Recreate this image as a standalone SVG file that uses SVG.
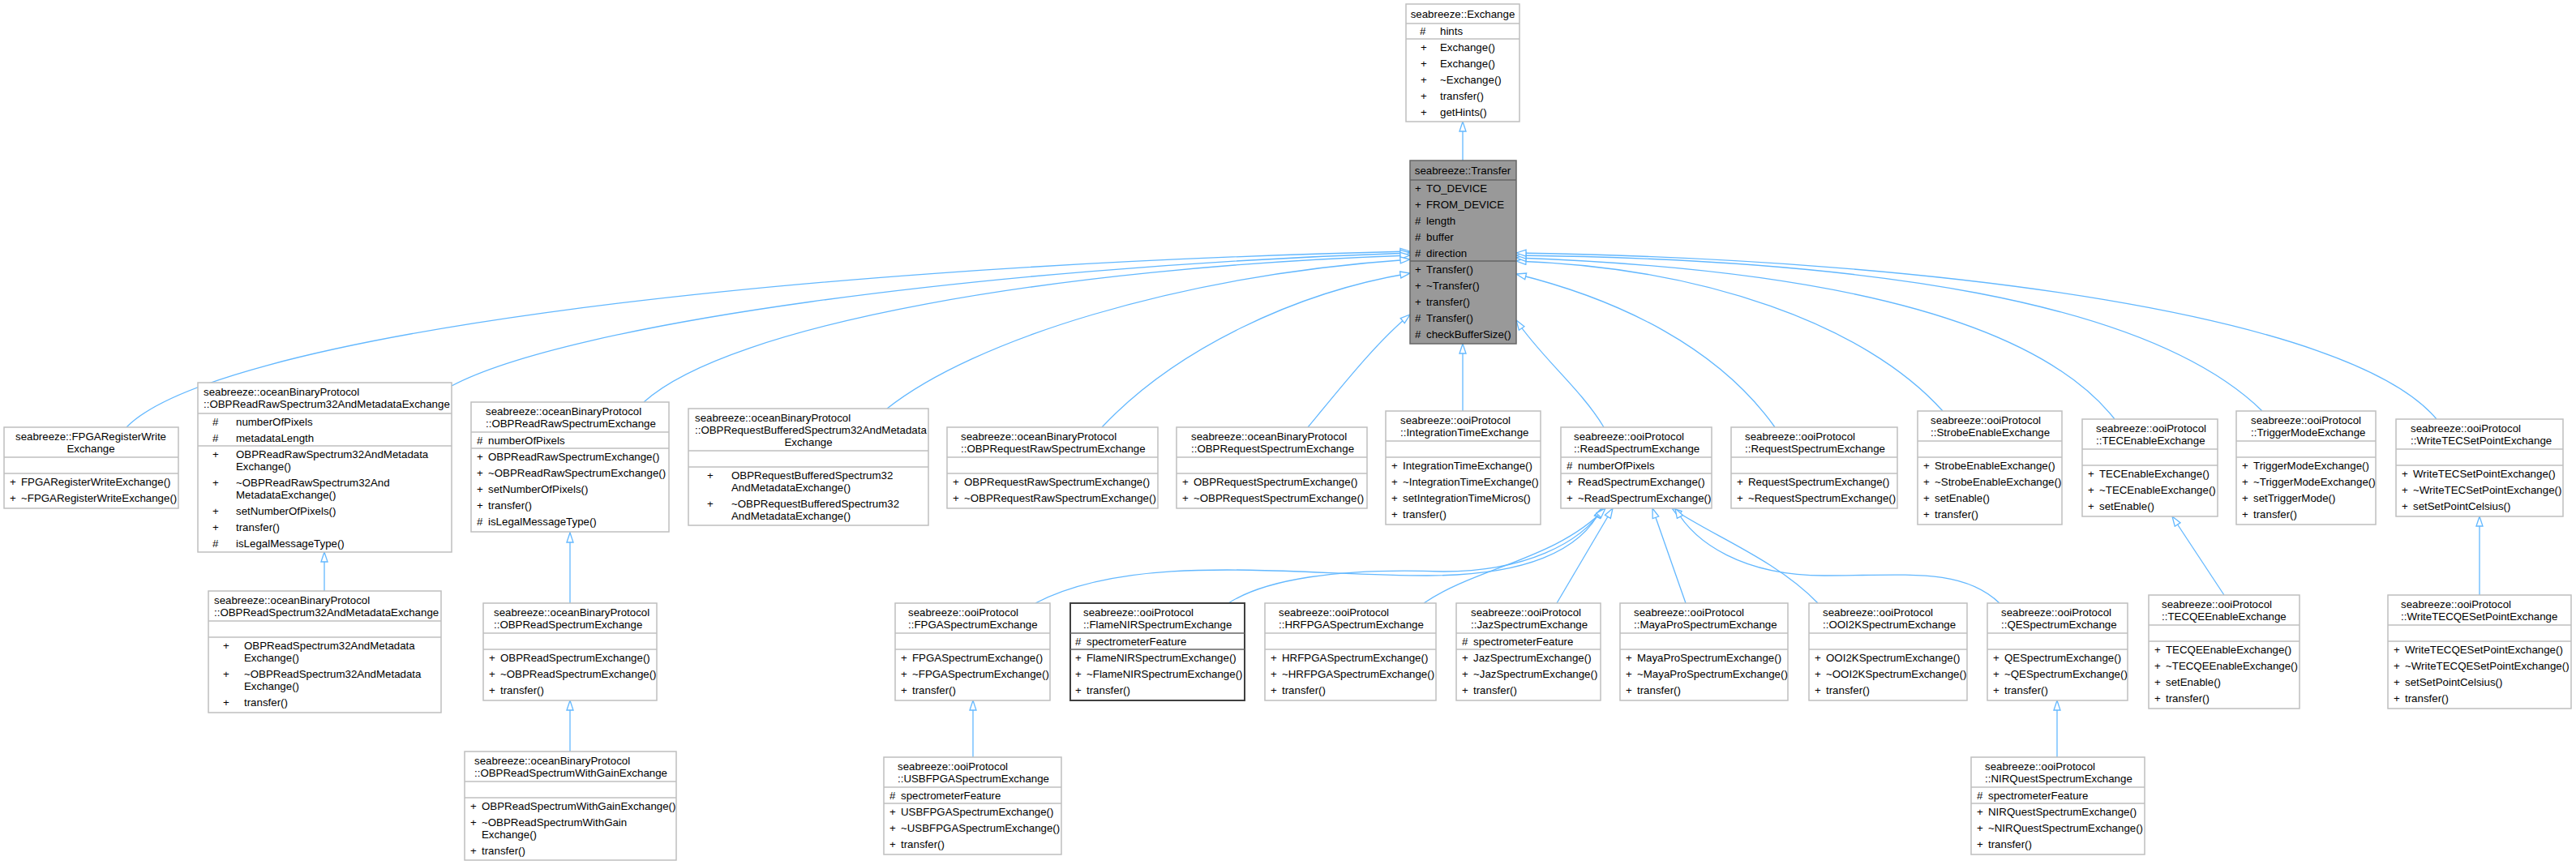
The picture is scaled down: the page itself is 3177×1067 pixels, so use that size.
<svg xmlns="http://www.w3.org/2000/svg" width="3177" height="1067" viewBox="0 0 3177 1067">
<style>
text{font-family:"Liberation Sans",Arial,sans-serif;font-size:13.3px;fill:#000}
.b{fill:#fff;stroke:#bfbfbf;stroke-width:1.5}
.cur{fill:#999;stroke:#666;stroke-width:1.5}
.dk{fill:#fff;stroke:#404040;stroke-width:2}
.s{stroke:#bfbfbf;stroke-width:1.5}
.sd{stroke:#666;stroke-width:1.5}
.c{text-anchor:middle}
.e path{fill:none;stroke:#63b8ff;stroke-width:1.3;marker-end:url(#tri)}
</style>
<defs>
<marker id="tri" viewBox="0 0 14 10" refX="13" refY="5" markerWidth="14" markerHeight="10" markerUnits="userSpaceOnUse" orient="auto">
<path d="M1,1 L13,5 L1,9 z" fill="#fff" stroke="#63b8ff" stroke-width="1.3"/>
</marker>
</defs>
<rect width="3177" height="1067" fill="#fff"/>
<g class="e" id="edges">
<path d="M1804,198 L1804,150"/>
<path d="M156,527 C260,420 900,330 1739,310"/>
<path d="M557,476 C700,400 1200,330 1739,312"/>
<path d="M794,496 C900,400 1300,330 1739,315"/>
<path d="M1094,504 C1200,420 1450,340 1739,320"/>
<path d="M1359,527 C1450,430 1600,360 1739,337"/>
<path d="M1613,527 C1660,470 1700,420 1739,388"/>
<path d="M1804,507 L1804,424"/>
<path d="M1978,527 C1950,480 1900,440 1870,395"/>
<path d="M2189,527 C2120,430 2000,370 1870,338"/>
<path d="M2396,507 C2300,400 2100,330 1870,322"/>
<path d="M2608,517 C2500,380 2200,330 1870,318"/>
<path d="M2790,507 C2650,370 2300,320 1870,315"/>
<path d="M3005,517 C2900,390 2400,320 1870,312"/>
<path d="M400,729 L400,681"/>
<path d="M703,744 L703,657"/>
<path d="M703,927 L703,864"/>
<path d="M1200,934 L1200,864"/>
<path d="M2537,934 L2537,864"/>
<path d="M2743,734 L2679,637"/>
<path d="M3058,734 L3058,637"/>
<path d="M1277,744 C1400,680 1600,710 1760,710 C1880,710 1950,680 1975,627"/>
<path d="M1515,744 C1560,715 1650,700 1780,705 C1880,705 1950,670 1977,627"/>
<path d="M1756,744 C1820,700 1920,690 1980,627"/>
<path d="M1920,744 L1989,627"/>
<path d="M2079,744 L2038,627"/>
<path d="M2242,744 C2190,690 2110,660 2062,627"/>
<path d="M2466,744 C2420,700 2350,710 2250,710 C2150,710 2090,670 2066,627"/>
</g>

<g id="exchange">
<rect class="b" x="1734" y="5" width="140" height="145"/>
<line class="s" x1="1734" y1="29" x2="1874" y2="29"/><line class="s" x1="1734" y1="48" x2="1874" y2="48"/>
<text class="c" x="1804" y="22">seabreeze::Exchange</text>
<text x="1751" y="43">#</text><text x="1776" y="43">hints</text>
<text x="1752" y="63">+</text><text x="1776" y="63">Exchange()</text>
<text x="1752" y="83">+</text><text x="1776" y="83">Exchange()</text>
<text x="1752" y="103">+</text><text x="1776" y="103">~Exchange()</text>
<text x="1752" y="123">+</text><text x="1776" y="123">transfer()</text>
<text x="1752" y="143">+</text><text x="1776" y="143">getHints()</text>
</g>

<g id="transfer">
<rect class="cur" x="1739" y="198" width="131" height="226"/>
<line class="sd" x1="1739" y1="222" x2="1870" y2="222"/><line class="sd" x1="1739" y1="322" x2="1870" y2="322"/>
<text class="c" x="1804" y="215">seabreeze::Transfer</text>
<text x="1745" y="237">+</text><text x="1759" y="237">TO_DEVICE</text>
<text x="1745" y="257">+</text><text x="1759" y="257">FROM_DEVICE</text>
<text x="1745" y="277">#</text><text x="1759" y="277">length</text>
<text x="1745" y="297">#</text><text x="1759" y="297">buffer</text>
<text x="1745" y="317">#</text><text x="1759" y="317">direction</text>
<text x="1745" y="337">+</text><text x="1759" y="337">Transfer()</text>
<text x="1745" y="357">+</text><text x="1759" y="357">~Transfer()</text>
<text x="1745" y="377">+</text><text x="1759" y="377">transfer()</text>
<text x="1745" y="397">#</text><text x="1759" y="397">Transfer()</text>
<text x="1745" y="417">#</text><text x="1759" y="417">checkBufferSize()</text>
</g>

<g id="fpgaregwrite">
<rect class="b" x="5" y="527" width="215" height="100"/>
<line class="s" x1="5" y1="564" x2="220" y2="564"/><line class="s" x1="5" y1="584" x2="220" y2="584"/>
<text class="c" x="112" y="543">seabreeze::FPGARegisterWrite</text>
<text class="c" x="112" y="558">Exchange</text>
<text x="12" y="599">+</text><text x="26" y="599">FPGARegisterWriteExchange()</text>
<text x="12" y="619">+</text><text x="26" y="619">~FPGARegisterWriteExchange()</text>
</g>

<g id="obpreadraw32meta">
<rect class="b" x="244" y="472" width="313" height="209"/>
<line class="s" x1="244" y1="510" x2="557" y2="510"/><line class="s" x1="244" y1="550" x2="557" y2="550"/>
<text x="251" y="488">seabreeze::oceanBinaryProtocol</text>
<text x="251" y="503">::OBPReadRawSpectrum32AndMetadataExchange</text>
<text x="262" y="525">#</text><text x="291" y="525">numberOfPixels</text>
<text x="262" y="545">#</text><text x="291" y="545">metadataLength</text>
<text x="262" y="565">+</text><text x="291" y="565">OBPReadRawSpectrum32AndMetadata</text><text x="291" y="580">Exchange()</text>
<text x="262" y="600">+</text><text x="291" y="600">~OBPReadRawSpectrum32And</text><text x="291" y="615">MetadataExchange()</text>
<text x="262" y="635">+</text><text x="291" y="635">setNumberOfPixels()</text>
<text x="262" y="655">+</text><text x="291" y="655">transfer()</text>
<text x="262" y="675">#</text><text x="291" y="675">isLegalMessageType()</text>
</g>

<g id="obpreadspec32meta">
<rect class="b" x="257" y="729" width="287" height="150"/>
<line class="s" x1="257" y1="766" x2="544" y2="766"/><line class="s" x1="257" y1="786" x2="544" y2="786"/>
<text x="264" y="745">seabreeze::oceanBinaryProtocol</text>
<text x="264" y="760">::OBPReadSpectrum32AndMetadataExchange</text>
<text x="275" y="801">+</text><text x="301" y="801">OBPReadSpectrum32AndMetadata</text><text x="301" y="816">Exchange()</text>
<text x="275" y="836">+</text><text x="301" y="836">~OBPReadSpectrum32AndMetadata</text><text x="301" y="851">Exchange()</text>
<text x="275" y="871">+</text><text x="301" y="871">transfer()</text>
</g>

<g id="obpreadraw">
<rect class="b" x="581" y="496" width="244" height="160"/>
<line class="s" x1="581" y1="533" x2="825" y2="533"/><line class="s" x1="581" y1="553" x2="825" y2="553"/>
<text x="599" y="512">seabreeze::oceanBinaryProtocol</text>
<text x="599" y="527">::OBPReadRawSpectrumExchange</text>
<text x="588" y="548">#</text><text x="602" y="548">numberOfPixels</text>
<text x="588" y="568">+</text><text x="602" y="568">OBPReadRawSpectrumExchange()</text>
<text x="588" y="588">+</text><text x="602" y="588">~OBPReadRawSpectrumExchange()</text>
<text x="588" y="608">+</text><text x="602" y="608">setNumberOfPixels()</text>
<text x="588" y="628">+</text><text x="602" y="628">transfer()</text>
<text x="588" y="648">#</text><text x="602" y="648">isLegalMessageType()</text>
</g>

<g id="obpreqbuffered">
<rect class="b" x="849" y="504" width="296" height="144"/>
<line class="s" x1="849" y1="556" x2="1145" y2="556"/><line class="s" x1="849" y1="576" x2="1145" y2="576"/>
<text x="857" y="520">seabreeze::oceanBinaryProtocol</text>
<text x="857" y="535">::OBPRequestBufferedSpectrum32AndMetadata</text>
<text class="c" x="997" y="550">Exchange</text>
<text x="872" y="591">+</text><text x="902" y="591">OBPRequestBufferedSpectrum32</text><text x="902" y="606">AndMetadataExchange()</text>
<text x="872" y="626">+</text><text x="902" y="626">~OBPRequestBufferedSpectrum32</text><text x="902" y="641">AndMetadataExchange()</text>
</g>

<g id="obpreqraw">
<rect class="b" x="1168" y="527" width="260" height="100"/>
<line class="s" x1="1168" y1="564" x2="1428" y2="564"/><line class="s" x1="1168" y1="584" x2="1428" y2="584"/>
<text x="1185" y="543">seabreeze::oceanBinaryProtocol</text>
<text x="1185" y="558">::OBPRequestRawSpectrumExchange</text>
<text x="1175" y="599">+</text><text x="1189" y="599">OBPRequestRawSpectrumExchange()</text>
<text x="1175" y="619">+</text><text x="1189" y="619">~OBPRequestRawSpectrumExchange()</text>
</g>

<g id="obpreqspec">
<rect class="b" x="1451" y="527" width="235" height="100"/>
<line class="s" x1="1451" y1="564" x2="1686" y2="564"/><line class="s" x1="1451" y1="584" x2="1686" y2="584"/>
<text x="1469" y="543">seabreeze::oceanBinaryProtocol</text>
<text x="1469" y="558">::OBPRequestSpectrumExchange</text>
<text x="1458" y="599">+</text><text x="1472" y="599">OBPRequestSpectrumExchange()</text>
<text x="1458" y="619">+</text><text x="1472" y="619">~OBPRequestSpectrumExchange()</text>
</g>

<g id="integrationtime">
<rect class="b" x="1709" y="507" width="191" height="140"/>
<line class="s" x1="1709" y1="544" x2="1900" y2="544"/><line class="s" x1="1709" y1="564" x2="1900" y2="564"/>
<text x="1727" y="523">seabreeze::ooiProtocol</text>
<text x="1727" y="538">::IntegrationTimeExchange</text>
<text x="1716" y="579">+</text><text x="1730" y="579">IntegrationTimeExchange()</text>
<text x="1716" y="599">+</text><text x="1730" y="599">~IntegrationTimeExchange()</text>
<text x="1716" y="619">+</text><text x="1730" y="619">setIntegrationTimeMicros()</text>
<text x="1716" y="639">+</text><text x="1730" y="639">transfer()</text>
</g>

<g id="readspectrum">
<rect class="b" x="1925" y="527" width="186" height="100"/>
<line class="s" x1="1925" y1="564" x2="2111" y2="564"/><line class="s" x1="1925" y1="584" x2="2111" y2="584"/>
<text x="1941" y="543">seabreeze::ooiProtocol</text>
<text x="1941" y="558">::ReadSpectrumExchange</text>
<text x="1932" y="579">#</text><text x="1946" y="579">numberOfPixels</text>
<text x="1932" y="599">+</text><text x="1946" y="599">ReadSpectrumExchange()</text>
<text x="1932" y="619">+</text><text x="1946" y="619">~ReadSpectrumExchange()</text>
</g>

<g id="requestspectrum">
<rect class="b" x="2135" y="527" width="205" height="100"/>
<line class="s" x1="2135" y1="564" x2="2340" y2="564"/><line class="s" x1="2135" y1="584" x2="2340" y2="584"/>
<text x="2152" y="543">seabreeze::ooiProtocol</text>
<text x="2152" y="558">::RequestSpectrumExchange</text>
<text x="2142" y="599">+</text><text x="2156" y="599">RequestSpectrumExchange()</text>
<text x="2142" y="619">+</text><text x="2156" y="619">~RequestSpectrumExchange()</text>
</g>

<g id="strobeenable">
<rect class="b" x="2365" y="507" width="178" height="140"/>
<line class="s" x1="2365" y1="544" x2="2543" y2="544"/><line class="s" x1="2365" y1="564" x2="2543" y2="564"/>
<text x="2381" y="523">seabreeze::ooiProtocol</text>
<text x="2381" y="538">::StrobeEnableExchange</text>
<text x="2372" y="579">+</text><text x="2386" y="579">StrobeEnableExchange()</text>
<text x="2372" y="599">+</text><text x="2386" y="599">~StrobeEnableExchange()</text>
<text x="2372" y="619">+</text><text x="2386" y="619">setEnable()</text>
<text x="2372" y="639">+</text><text x="2386" y="639">transfer()</text>
</g>

<g id="tecenable">
<rect class="b" x="2568" y="517" width="167" height="120"/>
<line class="s" x1="2568" y1="554" x2="2735" y2="554"/><line class="s" x1="2568" y1="574" x2="2735" y2="574"/>
<text x="2585" y="533">seabreeze::ooiProtocol</text>
<text x="2585" y="548">::TECEnableExchange</text>
<text x="2575" y="589">+</text><text x="2589" y="589">TECEnableExchange()</text>
<text x="2575" y="609">+</text><text x="2589" y="609">~TECEnableExchange()</text>
<text x="2575" y="629">+</text><text x="2589" y="629">setEnable()</text>
</g>

<g id="triggermode">
<rect class="b" x="2758" y="507" width="172" height="140"/>
<line class="s" x1="2758" y1="544" x2="2930" y2="544"/><line class="s" x1="2758" y1="564" x2="2930" y2="564"/>
<text x="2776" y="523">seabreeze::ooiProtocol</text>
<text x="2776" y="538">::TriggerModeExchange</text>
<text x="2765" y="579">+</text><text x="2779" y="579">TriggerModeExchange()</text>
<text x="2765" y="599">+</text><text x="2779" y="599">~TriggerModeExchange()</text>
<text x="2765" y="619">+</text><text x="2779" y="619">setTriggerMode()</text>
<text x="2765" y="639">+</text><text x="2779" y="639">transfer()</text>
</g>

<g id="writetecsetpoint">
<rect class="b" x="2955" y="517" width="206" height="120"/>
<line class="s" x1="2955" y1="554" x2="3161" y2="554"/><line class="s" x1="2955" y1="574" x2="3161" y2="574"/>
<text x="2973" y="533">seabreeze::ooiProtocol</text>
<text x="2973" y="548">::WriteTECSetPointExchange</text>
<text x="2962" y="589">+</text><text x="2976" y="589">WriteTECSetPointExchange()</text>
<text x="2962" y="609">+</text><text x="2976" y="609">~WriteTECSetPointExchange()</text>
<text x="2962" y="629">+</text><text x="2976" y="629">setSetPointCelsius()</text>
</g>

<g id="fpgaspectrum">
<rect class="b" x="1104" y="744" width="191" height="120"/>
<line class="s" x1="1104" y1="781" x2="1295" y2="781"/><line class="s" x1="1104" y1="801" x2="1295" y2="801"/>
<text x="1120" y="760">seabreeze::ooiProtocol</text>
<text x="1120" y="775">::FPGASpectrumExchange</text>
<text x="1111" y="816">+</text><text x="1125" y="816">FPGASpectrumExchange()</text>
<text x="1111" y="836">+</text><text x="1125" y="836">~FPGASpectrumExchange()</text>
<text x="1111" y="856">+</text><text x="1125" y="856">transfer()</text>
</g>

<g id="flamenir">
<rect class="dk" x="1320" y="744" width="215" height="120"/>
<line class="sd" x1="1320" y1="781" x2="1535" y2="781"/><line class="sd" x1="1320" y1="801" x2="1535" y2="801"/>
<text x="1336" y="760">seabreeze::ooiProtocol</text>
<text x="1336" y="775">::FlameNIRSpectrumExchange</text>
<text x="1326" y="796">#</text><text x="1340" y="796">spectrometerFeature</text>
<text x="1326" y="816">+</text><text x="1340" y="816">FlameNIRSpectrumExchange()</text>
<text x="1326" y="836">+</text><text x="1340" y="836">~FlameNIRSpectrumExchange()</text>
<text x="1326" y="856">+</text><text x="1340" y="856">transfer()</text>
</g>

<g id="hrfpga">
<rect class="b" x="1560" y="744" width="211" height="120"/>
<line class="s" x1="1560" y1="781" x2="1771" y2="781"/><line class="s" x1="1560" y1="801" x2="1771" y2="801"/>
<text x="1577" y="760">seabreeze::ooiProtocol</text>
<text x="1577" y="775">::HRFPGASpectrumExchange</text>
<text x="1567" y="816">+</text><text x="1581" y="816">HRFPGASpectrumExchange()</text>
<text x="1567" y="836">+</text><text x="1581" y="836">~HRFPGASpectrumExchange()</text>
<text x="1567" y="856">+</text><text x="1581" y="856">transfer()</text>
</g>

<g id="jaz">
<rect class="b" x="1796" y="744" width="178" height="120"/>
<line class="s" x1="1796" y1="781" x2="1974" y2="781"/><line class="s" x1="1796" y1="801" x2="1974" y2="801"/>
<text x="1814" y="760">seabreeze::ooiProtocol</text>
<text x="1814" y="775">::JazSpectrumExchange</text>
<text x="1803" y="796">#</text><text x="1817" y="796">spectrometerFeature</text>
<text x="1803" y="816">+</text><text x="1817" y="816">JazSpectrumExchange()</text>
<text x="1803" y="836">+</text><text x="1817" y="836">~JazSpectrumExchange()</text>
<text x="1803" y="856">+</text><text x="1817" y="856">transfer()</text>
</g>

<g id="mayapro">
<rect class="b" x="1998" y="744" width="207" height="120"/>
<line class="s" x1="1998" y1="781" x2="2205" y2="781"/><line class="s" x1="1998" y1="801" x2="2205" y2="801"/>
<text x="2015" y="760">seabreeze::ooiProtocol</text>
<text x="2015" y="775">::MayaProSpectrumExchange</text>
<text x="2005" y="816">+</text><text x="2019" y="816">MayaProSpectrumExchange()</text>
<text x="2005" y="836">+</text><text x="2019" y="836">~MayaProSpectrumExchange()</text>
<text x="2005" y="856">+</text><text x="2019" y="856">transfer()</text>
</g>

<g id="ooi2k">
<rect class="b" x="2231" y="744" width="195" height="120"/>
<line class="s" x1="2231" y1="781" x2="2426" y2="781"/><line class="s" x1="2231" y1="801" x2="2426" y2="801"/>
<text x="2248" y="760">seabreeze::ooiProtocol</text>
<text x="2248" y="775">::OOI2KSpectrumExchange</text>
<text x="2238" y="816">+</text><text x="2252" y="816">OOI2KSpectrumExchange()</text>
<text x="2238" y="836">+</text><text x="2252" y="836">~OOI2KSpectrumExchange()</text>
<text x="2238" y="856">+</text><text x="2252" y="856">transfer()</text>
</g>

<g id="qe">
<rect class="b" x="2451" y="744" width="173" height="120"/>
<line class="s" x1="2451" y1="781" x2="2624" y2="781"/><line class="s" x1="2451" y1="801" x2="2624" y2="801"/>
<text x="2468" y="760">seabreeze::ooiProtocol</text>
<text x="2468" y="775">::QESpectrumExchange</text>
<text x="2458" y="816">+</text><text x="2472" y="816">QESpectrumExchange()</text>
<text x="2458" y="836">+</text><text x="2472" y="836">~QESpectrumExchange()</text>
<text x="2458" y="856">+</text><text x="2472" y="856">transfer()</text>
</g>

<g id="tecqe">
<rect class="b" x="2650" y="734" width="186" height="140"/>
<line class="s" x1="2650" y1="771" x2="2836" y2="771"/><line class="s" x1="2650" y1="791" x2="2836" y2="791"/>
<text x="2666" y="750">seabreeze::ooiProtocol</text>
<text x="2666" y="765">::TECQEEnableExchange</text>
<text x="2657" y="806">+</text><text x="2671" y="806">TECQEEnableExchange()</text>
<text x="2657" y="826">+</text><text x="2671" y="826">~TECQEEnableExchange()</text>
<text x="2657" y="846">+</text><text x="2671" y="846">setEnable()</text>
<text x="2657" y="866">+</text><text x="2671" y="866">transfer()</text>
</g>

<g id="writetecqe">
<rect class="b" x="2945" y="734" width="226" height="140"/>
<line class="s" x1="2945" y1="771" x2="3171" y2="771"/><line class="s" x1="2945" y1="791" x2="3171" y2="791"/>
<text x="2961" y="750">seabreeze::ooiProtocol</text>
<text x="2961" y="765">::WriteTECQESetPointExchange</text>
<text x="2952" y="806">+</text><text x="2966" y="806">WriteTECQESetPointExchange()</text>
<text x="2952" y="826">+</text><text x="2966" y="826">~WriteTECQESetPointExchange()</text>
<text x="2952" y="846">+</text><text x="2966" y="846">setSetPointCelsius()</text>
<text x="2952" y="866">+</text><text x="2966" y="866">transfer()</text>
</g>

<g id="obpreadspectrum">
<rect class="b" x="596" y="744" width="214" height="120"/>
<line class="s" x1="596" y1="781" x2="810" y2="781"/><line class="s" x1="596" y1="801" x2="810" y2="801"/>
<text x="609" y="760">seabreeze::oceanBinaryProtocol</text>
<text x="609" y="775">::OBPReadSpectrumExchange</text>
<text x="603" y="816">+</text><text x="617" y="816">OBPReadSpectrumExchange()</text>
<text x="603" y="836">+</text><text x="617" y="836">~OBPReadSpectrumExchange()</text>
<text x="603" y="856">+</text><text x="617" y="856">transfer()</text>
</g>

<g id="obpreadspecgain">
<rect class="b" x="573" y="927" width="261" height="134"/>
<line class="s" x1="573" y1="964" x2="834" y2="964"/><line class="s" x1="573" y1="984" x2="834" y2="984"/>
<text x="585" y="943">seabreeze::oceanBinaryProtocol</text>
<text x="585" y="958">::OBPReadSpectrumWithGainExchange</text>
<text x="580" y="999">+</text><text x="594" y="999">OBPReadSpectrumWithGainExchange()</text>
<text x="580" y="1019">+</text><text x="594" y="1019">~OBPReadSpectrumWithGain</text><text x="594" y="1034">Exchange()</text>
<text x="580" y="1054">+</text><text x="594" y="1054">transfer()</text>
</g>

<g id="usbfpga">
<rect class="b" x="1090" y="934" width="219" height="120"/>
<line class="s" x1="1090" y1="971" x2="1309" y2="971"/><line class="s" x1="1090" y1="991" x2="1309" y2="991"/>
<text x="1107" y="950">seabreeze::ooiProtocol</text>
<text x="1107" y="965">::USBFPGASpectrumExchange</text>
<text x="1097" y="986">#</text><text x="1111" y="986">spectrometerFeature</text>
<text x="1097" y="1006">+</text><text x="1111" y="1006">USBFPGASpectrumExchange()</text>
<text x="1097" y="1026">+</text><text x="1111" y="1026">~USBFPGASpectrumExchange()</text>
<text x="1097" y="1046">+</text><text x="1111" y="1046">transfer()</text>
</g>

<g id="nirquest">
<rect class="b" x="2431" y="934" width="214" height="120"/>
<line class="s" x1="2431" y1="971" x2="2645" y2="971"/><line class="s" x1="2431" y1="991" x2="2645" y2="991"/>
<text x="2448" y="950">seabreeze::ooiProtocol</text>
<text x="2448" y="965">::NIRQuestSpectrumExchange</text>
<text x="2438" y="986">#</text><text x="2452" y="986">spectrometerFeature</text>
<text x="2438" y="1006">+</text><text x="2452" y="1006">NIRQuestSpectrumExchange()</text>
<text x="2438" y="1026">+</text><text x="2452" y="1026">~NIRQuestSpectrumExchange()</text>
<text x="2438" y="1046">+</text><text x="2452" y="1046">transfer()</text>
</g>
</svg>
